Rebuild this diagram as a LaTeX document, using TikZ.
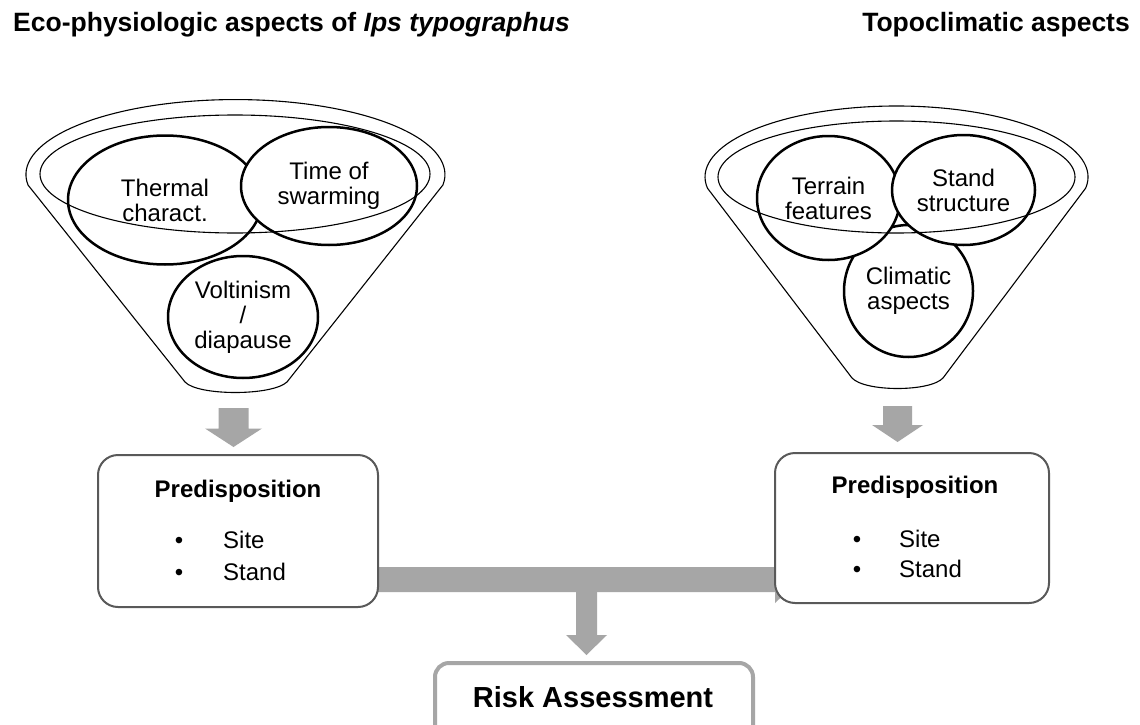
\documentclass[tikz,border=0pt]{standalone}
\usepackage{fontspec}
\setmainfont{Liberation Sans}
\usetikzlibrary{shapes.geometric}
\definecolor{arrowgray}{HTML}{A6A6A6}
\definecolor{boxgray}{HTML}{595959}
\newcommand\DownBlock[6]{%
  \fill[arrowgray] (#1-#5,#2) -- (#1+#5,#2) -- (#1+#5,#3) -- (#1+#6,#3) -- (#1,#4) -- (#1-#6,#3) -- (#1-#5,#3) -- cycle;}
\begin{document}
\begin{tikzpicture}[x=1pt,y=-1pt,
  funnel/.style={draw=black,line width=1.1pt},
  bubble/.style={ellipse,draw=black,fill=white,line width=2.5pt,inner sep=0pt,align=center,
    font=\fontsize{24}{25}\selectfont},
  predbox/.style={draw=boxgray,line width=2pt,rounded corners=20pt,fill=white,
    inner sep=0pt},
  riskbox/.style={draw=arrowgray,line width=4pt,rounded corners=14pt,fill=white,
    inner sep=0pt},
  title/.style={font=\fontsize{26.5}{30}\selectfont\bfseries,inner sep=0pt},
  boxtitle/.style={font=\fontsize{24}{25}\selectfont\bfseries,inner sep=0pt},
  boxtext/.style={font=\fontsize{24}{25}\selectfont,inner sep=0pt}
]
\useasboundingbox (0,0) rectangle (1140,725);
\fill[white] (0,0) rectangle (1140,725);

% titles
\node[title,anchor=base west] (t1) at (13,32) {Eco-physiologic aspects of \textit{Ips typographus}};
\node[title,anchor=base east] (t2) at (1130,32) {Topoclimatic aspects};

% left funnel
\draw[funnel] (28,185) arc[start angle=188,end angle=-8,x radius=209.5pt,y radius=75pt]
  -- (287,382) .. controls (272,396) and (198,396) .. (185,382) -- cycle;

\node[bubble,minimum width=194pt,minimum height=129pt] (thermal) at (165,200) {Thermal\\charact.};
\node[bubble,minimum width=176pt,minimum height=118pt] (swarm) at (329,186) {Time of\\swarming};
\node[bubble,minimum width=150pt,minimum height=122pt] (volt) at (243,317) {Voltinism\\/\\diapause};

\draw[funnel] (235,174) ellipse[x radius=195pt,y radius=59pt];

% right funnel
\draw[funnel] (707.4,188.1) arc[start angle=189,end angle=-9,x radius=191.5pt,y radius=71pt]
  -- (943,378) .. controls (930,392) and (865,392) .. (852,378) -- cycle;

\node[bubble,minimum width=129pt,minimum height=132pt] (climatic) at (908.5,291) {Climatic\\aspects};
\node[bubble,minimum width=143pt,minimum height=124pt] (terrain) at (828.5,198) {Terrain\\features};
\node[bubble,minimum width=143pt,minimum height=110pt] (standst) at (963.5,190) {Stand\\structure};

\draw[funnel] (896.5,177) ellipse[x radius=178.5pt,y radius=56pt];

% block arrows
\DownBlock{233.5}{408}{428.5}{447}{15}{28.5}
\DownBlock{897.5}{406}{425}{442}{14.5}{25.5}
\fill[arrowgray] (378,567) -- (775,567) -- (775,556) -- (800,579.5) -- (775,603) -- (775,592) -- (378,592) -- cycle;
\DownBlock{586.5}{590}{635}{655}{10.5}{20.5}

% boxes
\node[predbox,minimum width=280pt,minimum height=152pt] (predL) at (238,531) {};
\node[predbox,minimum width=274pt,minimum height=150pt] (predR) at (912,528) {};
\node[riskbox,minimum width=318pt,minimum height=82pt] (risk) at (594,704) {};

% box texts
\node[boxtitle,anchor=base] (pLt) at (238,497) {Predisposition};
\node[boxtext,anchor=base] (bL1) at (179,548) {•};
\node[boxtext,anchor=base west] (sL1) at (223,548) {Site};
\node[boxtext,anchor=base] (bL2) at (179,580) {•};
\node[boxtext,anchor=base west] (sL2) at (223,580) {Stand};

\node[boxtitle,anchor=base] (pRt) at (915,493) {Predisposition};
\node[boxtext,anchor=base] (bR1) at (857,547) {•};
\node[boxtext,anchor=base west] (sR1) at (899,547) {Site};
\node[boxtext,anchor=base] (bR2) at (857,577) {•};
\node[boxtext,anchor=base west] (sR2) at (899,577) {Stand};

\node[font=\fontsize{29}{32}\selectfont\bfseries,inner sep=0pt,anchor=base] (risktxt) at (593,707) {Risk Assessment};
\end{tikzpicture}
\end{document}
